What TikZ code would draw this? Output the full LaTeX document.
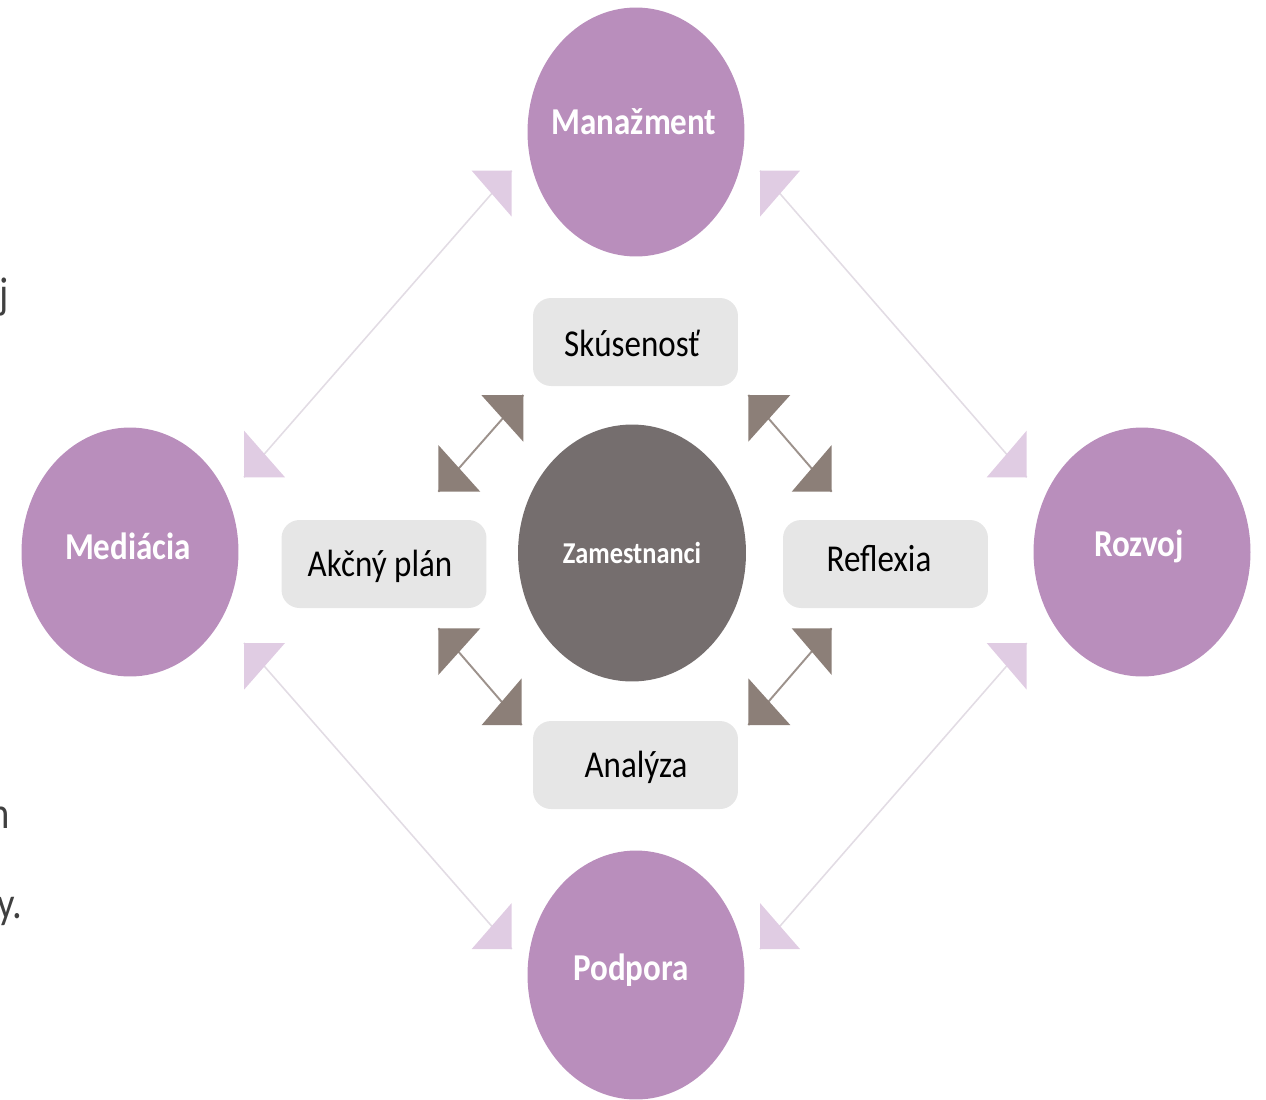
\documentclass[tikz,border=0pt]{standalone}
\usepackage{fontspec}
\setmainfont{Carlito}
\usepackage{graphicx}
\usepackage{tikz}
\usetikzlibrary{positioning}
\usetikzlibrary{calc}
\usetikzlibrary{shapes.geometric}
\definecolor{mauve}{HTML}{B98EBC}
\definecolor{lightmauve}{HTML}{E0CCE3}
\definecolor{linemauve}{HTML}{E2DCE4}
\definecolor{stone}{HTML}{756E6E}
\definecolor{tipbrown}{HTML}{8C7F78}
\definecolor{boxgrey}{HTML}{E6E6E6}
\definecolor{textgrey}{HTML}{404040}
\tikzset{
  outer/.style={ellipse, fill=mauve, inner sep=0pt,
    minimum width=4.34cm, minimum height=4.98cm},
  outerlabel/.style={text=white, inner sep=0pt,
    font=\bfseries\fontsize{18.8}{22}\selectfont},
  core/.style={ellipse, fill=stone, text=white, inner sep=0pt,
    minimum width=4.56cm, minimum height=5.14cm,
    font=\bfseries\fontsize{15}{18}\selectfont},
  stepbox/.style={rectangle, rounded corners=0.36cm, fill=boxgrey, inner sep=0pt,
    minimum width=4.1cm, minimum height=1.76cm},
  steplabel/.style={inner sep=0pt, font=\fontsize{18.8}{22}\selectfont},
  bigline/.style={draw=linemauve, line width=0.9pt},
  smallline/.style={draw=tipbrown!85, line width=1.1pt},
  cuttext/.style={text=textgrey, font=\fontsize{22}{26}\selectfont, inner sep=0pt}
}
% stretched text, right-angle tip
\newcommand{\tall}[1]{\scalebox{1}[1.15]{#1}}
\newcommand{\tiptri}[4]{\fill[#4] (#1) -- ($(#1)+(#2,0)$) -- ($(#1)+(0,#3)$) -- cycle;}

\begin{document}
\begin{tikzpicture}[x=0.02cm, y=-0.02cm]
  \useasboundingbox (0,0) rectangle (1266,1099);

  % circles
  \node[outer] (manazment) at (636,132) {};
  \node[outer] (mediacia) at (130,552) {};
  \node[outer] (rozvoj) at (1142,552) {};
  \node[outer] (podpora) at (636,975) {};
  \node[outerlabel] (tmanazment) at (634,122) {\tall{Manažment}};
  \node[outerlabel] (tmediacia) at (128,546) {\tall{Mediácia}};
  \node[outerlabel] (trozvoj) at (1139,546) {\tall{Rozvoj}};
  \node[outerlabel] (tpodpora) at (631,970) {\tall{Podpora}};
  \node[core] (zamestnanci) at (632,553) {\tall{Zamestnanci}};

  % boxes
  \node[stepbox] (skusenost) at (635.5,342) {};
  \node[stepbox] (akcny) at (384,564) {};
  \node[stepbox] (reflexia) at (885.5,564) {};
  \node[stepbox] (analyza) at (635.5,765) {};
  \node[steplabel] (tskusenost) at (632,343) {\tall{Skúsenosť}};
  \node[steplabel] (takcny) at (380,566) {\tall{Akčný plán}};
  \node[steplabel] (treflexia) at (879,559) {\tall{Reflexia}};
  \node[steplabel] (tanalyza) at (636,767) {\tall{Analýza}};

  % big arrows
  \coordinate (bm1) at (511.7,170.7);
  \coordinate (bm2) at (760,170.7);
  \coordinate (bl1) at (244,477.3);
  \coordinate (bl2) at (244,643);
  \coordinate (br1) at (1026.7,477.3);
  \coordinate (br2) at (1026.7,643);
  \coordinate (bp1) at (511.7,949);
  \coordinate (bp2) at (760,949);
  \draw[bigline] (bm1) -- (bl1);
  \draw[bigline] (bm2) -- (br1);
  \draw[bigline] (bl2) -- (bp1);
  \draw[bigline] (br2) -- (bp2);
  \tiptri{bm1}{-40}{46}{lightmauve}
  \tiptri{bl1}{41}{-46.7}{lightmauve}
  \tiptri{bm2}{40}{46}{lightmauve}
  \tiptri{br1}{-40}{-46.7}{lightmauve}
  \tiptri{bl2}{41}{46.7}{lightmauve}
  \tiptri{bp1}{-40}{-46}{lightmauve}
  \tiptri{br2}{-40}{46.7}{lightmauve}
  \tiptri{bp2}{40}{-46}{lightmauve}

  % small arrows
  \coordinate (s1a) at (523.3,395);
  \coordinate (s1b) at (438.3,491.7);
  \coordinate (s2a) at (748.3,395);
  \coordinate (s2b) at (831.7,491.7);
  \coordinate (s3a) at (438.3,628.3);
  \coordinate (s3b) at (521.7,725);
  \coordinate (s4a) at (831.7,628.3);
  \coordinate (s4b) at (748.3,725);
  \draw[smallline] (s1a) -- (s1b);
  \draw[smallline] (s2a) -- (s2b);
  \draw[smallline] (s3a) -- (s3b);
  \draw[smallline] (s4a) -- (s4b);
  \tiptri{s1a}{-42}{46.7}{tipbrown}
  \tiptri{s1b}{42}{-46.7}{tipbrown}
  \tiptri{s2a}{42}{46.7}{tipbrown}
  \tiptri{s2b}{-40}{-46.7}{tipbrown}
  \tiptri{s3a}{42}{46.7}{tipbrown}
  \tiptri{s3b}{-40}{-46.7}{tipbrown}
  \tiptri{s4a}{-40}{46.7}{tipbrown}
  \tiptri{s4b}{42}{-46.7}{tipbrown}

  % cut text at left edge
  \node[cuttext, anchor=base east] (frag1) at (9,308) {\tall{j}};
  \node[cuttext, anchor=base east] (frag2) at (10,828) {\tall{n}};
  \node[cuttext, anchor=base east] (frag3) at (23,918) {\tall{y.}};
\end{tikzpicture}
\end{document}
